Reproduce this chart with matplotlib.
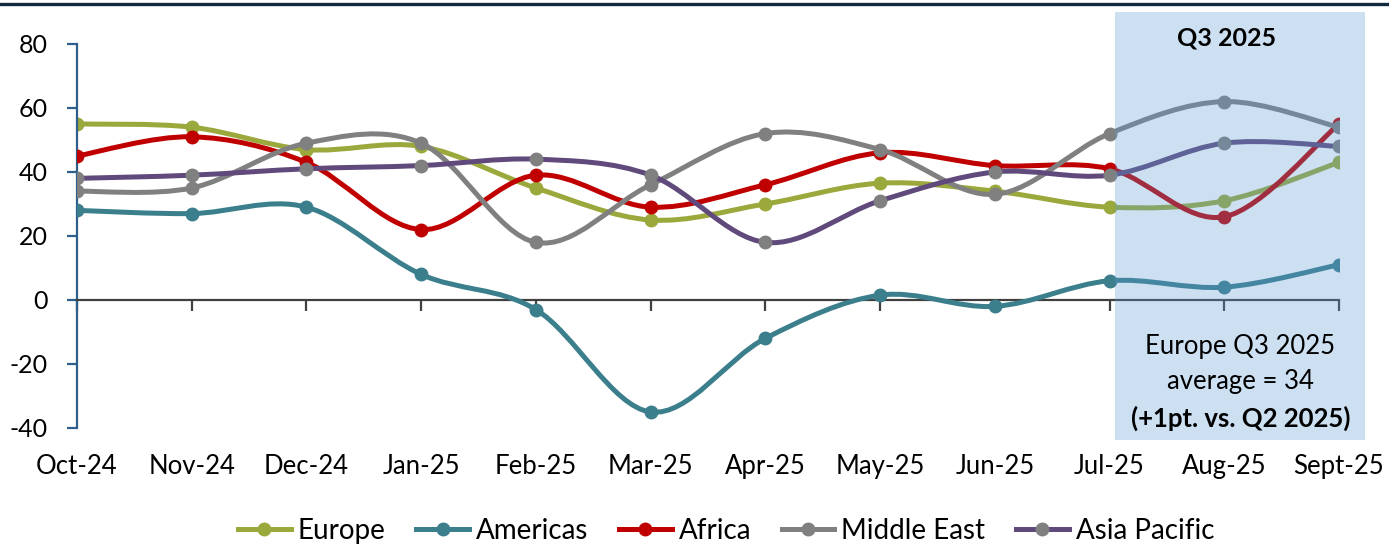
import numpy as np
import matplotlib.pyplot as plt
from matplotlib.path import Path
from matplotlib.patches import PathPatch, Rectangle
from matplotlib.lines import Line2D

plt.rcParams['font.family'] = ['Lato', 'DejaVu Sans']
plt.rcParams['axes.unicode_minus'] = False

# datos
meses = ["Oct-24", "Nov-24", "Dec-24", "Jan-25", "Feb-25", "Mar-25",
         "Apr-25", "May-25", "Jun-25", "Jul-25", "Aug-25", "Sept-25"]
europe = [55, 54, 47, 48, 35, 25, 30, 36.5, 34, 29, 31, 43]
americas = [28, 27, 29, 8, -3, -35, -12, 1.5, -2, 6, 4, 11]
africa = [45, 51, 43, 22, 39, 29, 36, 46, 42, 41, 26, 55]
middle_east = [34, 35, 49, 49, 18, 36, 52, 47, 33, 52, 62, 54]
asia_pacific = [38, 39, 41, 42, 44, 39, 18, 31, 40, 39, 49, 48]

series = [
    ("Europe", europe, "#9BA83B", "#9BA83B"),
    ("Americas", americas, "#3B7E8C", "#3B7E8C"),
    ("Africa", africa, "#C00000", "#C00000"),
    ("Middle East", middle_east, "#808080", "#808080"),
    ("Asia Pacific", asia_pacific, "#604A7B", "#808080"),
]


def curva_suave(xs, ys):
    # linea suavizada tipo Excel (bezier con tangentes catmull-rom)
    pts = np.column_stack([xs, ys]).astype(float)
    n = len(pts)
    verts = [pts[0]]
    codes = [Path.MOVETO]
    for i in range(n - 1):
        p0 = pts[max(i - 1, 0)]
        p1 = pts[i]
        p2 = pts[i + 1]
        p3 = pts[min(i + 2, n - 1)]
        verts += [p1 + (p2 - p0) / 6, p2 - (p3 - p1) / 6, p2]
        codes += [Path.CURVE4] * 3
    return Path(verts, codes)


fig = plt.figure(figsize=(13.89, 5.47), dpi=100)
ax = fig.add_axes([0.0554, 0.2176, 0.9086, 0.702])

x = np.arange(len(meses))
handles = []
for i, (nombre, vals, col, mcol) in enumerate(series):
    ax.add_patch(PathPatch(curva_suave(x, vals), facecolor="none",
                           edgecolor=col, lw=3.6, zorder=2 + i, capstyle="round"))
    ax.plot(x, vals, "o", color=mcol, markersize=9, zorder=2.5 + i)
    handles.append(Line2D([], [], color=col, lw=3.6, marker="o", markersize=9,
                          markerfacecolor=mcol, markeredgecolor=mcol))

ax.set_xlim(0, 11)
ax.set_ylim(-40, 80)
ax.set_yticks(range(-40, 81, 20))
ax.set_xticks(x)

for s in ["top", "right"]:
    ax.spines[s].set_visible(False)
ax.spines["bottom"].set_position(("data", 0))
ax.spines["bottom"].set_color("#404040")
ax.spines["bottom"].set_linewidth(1.6)
ax.spines["left"].set_color("#2E5E8C")
ax.spines["left"].set_linewidth(1.6)

ax.tick_params(axis="x", direction="out", length=8, width=1.6, color="#404040",
               labelbottom=False)
ax.tick_params(axis="y", direction="out", length=7, width=1.6, color="#2E5E8C",
               labelsize=18, pad=14)

sec = ax.secondary_xaxis("bottom")
sec.set_xticks(x, labels=meses)
sec.tick_params(length=0, pad=19, labelsize=18.5)
sec.spines["bottom"].set_visible(False)

# caja del trimestre
ax.add_patch(Rectangle((9.05, -43.75), 2.18, 133.75, facecolor="#5B9BD5",
                       edgecolor="none", alpha=0.3, zorder=10, clip_on=False))
ax.text(10.02, 82, "Q3 2025", ha="center", va="center", fontsize=18,
        fontweight="bold", zorder=11)
ax.text(10.14, -14.4, "Europe Q3 2025", ha="center", va="center", fontsize=18.5, zorder=11)
ax.text(10.14, -25.6, "average = 34", ha="center", va="center", fontsize=18.5, zorder=11)
ax.text(10.14, -36.9, "(+1pt. vs. Q2 2025)", ha="center", va="center", fontsize=18.5,
        fontweight="bold", zorder=11)

# linea superior
fig.add_artist(Line2D([0, 1], [0.9927, 0.9927], transform=fig.transFigure,
                      color="#14283C", lw=2.4))

fig.legend(handles, [s[0] for s in series], loc="center",
           bbox_to_anchor=(0.5227, 0.03), ncol=5, frameon=False, fontsize=20,
           handlelength=1.9, handletextpad=0.25, columnspacing=1.1,
           borderpad=0.1)

fig.savefig("out.png", dpi=100)
